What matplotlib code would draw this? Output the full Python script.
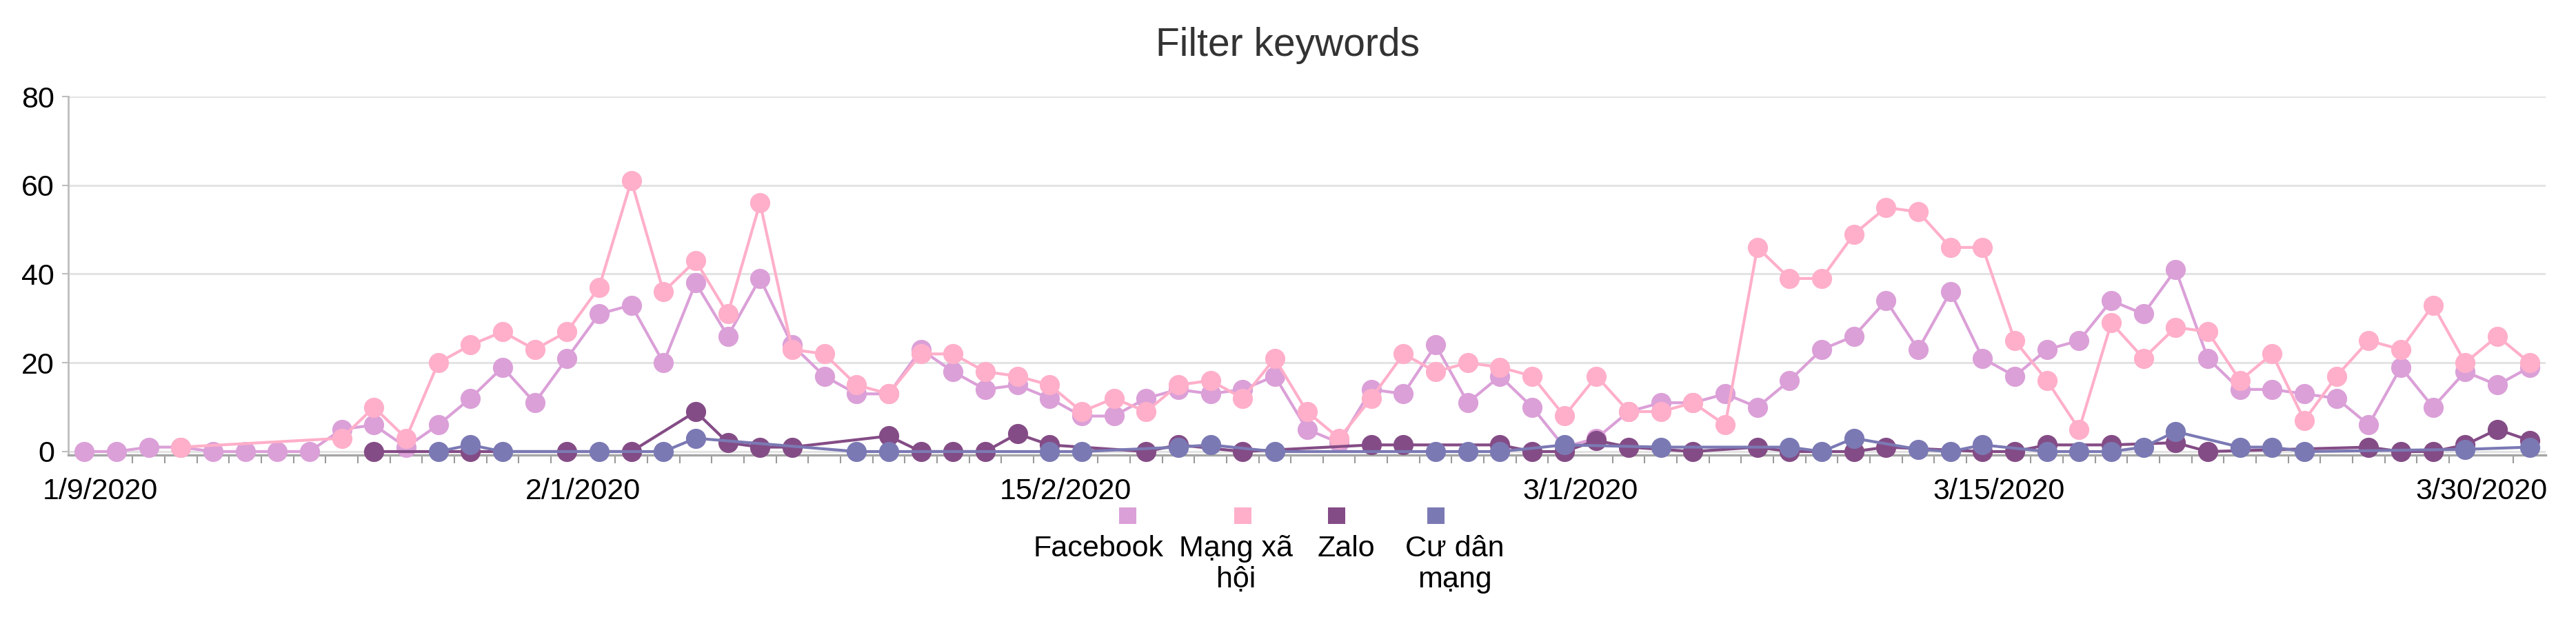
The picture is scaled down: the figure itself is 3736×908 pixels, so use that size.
import matplotlib
matplotlib.use("Agg")
import matplotlib.pyplot as plt
from matplotlib.patches import Rectangle

plt.rcParams['font.family'] = ['Liberation Sans', 'DejaVu Sans']

# daily categories, 77 of them; None = no point that day
facebook = [0, 0, 1, 1, 0, 0, 0, 0, 5, 6,
            1, 6, 12, 19, 11, 21, 31, 33, 20, 38,
            26, 39, 24, 17, 13, 13, 23, 18, 14, 15,
            12, 8, 8, 12, 14, 13, 14, 17, 5, 2,
            14, 13, 24, 11, 17, 10, 1, 3, 9, 11,
            11, 13, 10, 16, 23, 26, 34, 23, 36, 21,
            17, 23, 25, 34, 31, 41, 21, 14, 14, 13,
            12, 6, 19, 10, 18, 15, 19]
mang_xa_hoi = [None, None, None, 1, None, None, None, None, 3, 10,
               3, 20, 24, 27, 23, 27, 37, 61, 36, 43,
               31, 56, 23, 22, 15, 13, 22, 22, 18, 17,
               15, 9, 12, 9, 15, 16, 12, 21, 9, 3,
               12, 22, 18, 20, 19, 17, 8, 17, 9, 9,
               11, 6, 46, 39, 39, 49, 55, 54, 46, 46,
               25, 16, 5, 29, 21, 28, 27, 16, 22, 7,
               17, 25, 23, 33, 20, 26, 20]
zalo = [None] * 9 + [0, None, None, 0, None, None, 0, None, 0, None, 9,
        2, 1, 1, None, None, 3.5, 0, 0, 0, 4,
        1.5, None, None, 0, 1.5, None, 0, None, None, None,
        1.5, 1.5, None, None, 1.5, 0, 0, 2.5, 1, None,
        0, None, 1, 0, None, 0, 1, None, None, 0,
        0, 1.5, None, 1.5, None, 2, 0, None, None, None,
        None, 1, 0, 0, 1.5, 5, 2.5]
cu_dan_mang = [None] * 11 + [0, 1.5, 0, None, None, 0, None, 0, 3,
               None, None, None, None, 0, 0, None, None, None, None,
               0, 0, None, None, 1, 1.5, None, 0, None, None,
               None, None, 0, 0, 0, None, 1.5, None, None, 1,
               None, None, None, 1, 0, 3, None, 0.5, 0, 1.5,
               None, 0, 0, 0, 1, 4.5, None, 1, 1, 0,
               None, None, None, None, 0.5, None, 1]

series_names = ['Facebook', 'Mạng xã hội', 'Zalo', 'Cư dân mạng']
series_colors = ['#dba0d8', '#ffafc9', '#844c86', '#7b79b4']
legend_labels = ['Facebook', 'Mạng xã\nhội', 'Zalo', 'Cư dân\nmạng']

tick_idx = [0, 15, 30, 46, 59, 74]
tick_text = ['1/9/2020', '2/1/2020', '15/2/2020', '3/1/2020', '3/15/2020', '3/30/2020']

n = len(facebook)

fig = plt.figure(figsize=(37.36, 9.08), dpi=100)
ax = fig.add_axes([99 / 3736, 1 - 660 / 908, (3692 - 99) / 3736, (660 - 140) / 908])

all_series = [facebook, mang_xa_hoi, zalo, cu_dan_mang]
for vals, col in zip(all_series, series_colors):
    xs = [i for i, v in enumerate(vals) if v is not None]
    ys = [v for v in vals if v is not None]
    ax.plot(xs, ys, color=col, lw=3.0, marker='o', ms=20, mec=col, mfc=col,
            solid_joinstyle='round', zorder=3, clip_on=False)

ax.set_xlim(-0.5, n - 0.5)
ax.set_ylim(-0.78, 80)

# y axis
ax.set_yticks([0, 20, 40, 60, 80])
ax.yaxis.grid(True, color='#e3e3e3', lw=2.2)
ax.set_axisbelow(True)
ax.tick_params(axis='y', length=6.5, width=1.5, color='#bdbdbd', labelsize=31, pad=8)

# x axis: small ticks between categories, labels under selected days
ax.set_xticks([i + 0.5 for i in tick_idx])
ax.set_xticklabels(tick_text)
ax.set_xticks([i + 0.5 for i in range(n - 1)], minor=True)
ax.tick_params(axis='x', which='major', length=0, labelsize=31, pad=24)
ax.tick_params(axis='x', which='minor', length=8.6, width=1.5, color='#9a9a9a')

for side in ['top', 'right']:
    ax.spines[side].set_visible(False)
ax.spines['left'].set_color('#bdbdbd')
ax.spines['left'].set_linewidth(2.0)
ax.spines['bottom'].set_color('#a6a6a6')
ax.spines['bottom'].set_linewidth(2.4)

fig.text(0.5, 1 - 66 / 908, 'Filter keywords', ha='center', va='center',
         fontsize=41, color='#333333')

# legend: colour square above, label below
sq_x = [1635, 1802, 1938, 2082]
txt_x = [1593, 1793, 1952, 2110]
W, H = 3736, 908
for sx, tx, col, lab in zip(sq_x, txt_x, series_colors, legend_labels):
    fig.add_artist(Rectangle(((sx - 12.5) / W, 1 - 760 / H), 25 / W, 24 / H,
                             transform=fig.transFigure, color=col, lw=0))
    fig.text(tx / W, 1 - 776 / H, lab, ha='center', va='top', fontsize=31,
             multialignment='center', linespacing=1.15)

fig.savefig('out.png', dpi=100)
